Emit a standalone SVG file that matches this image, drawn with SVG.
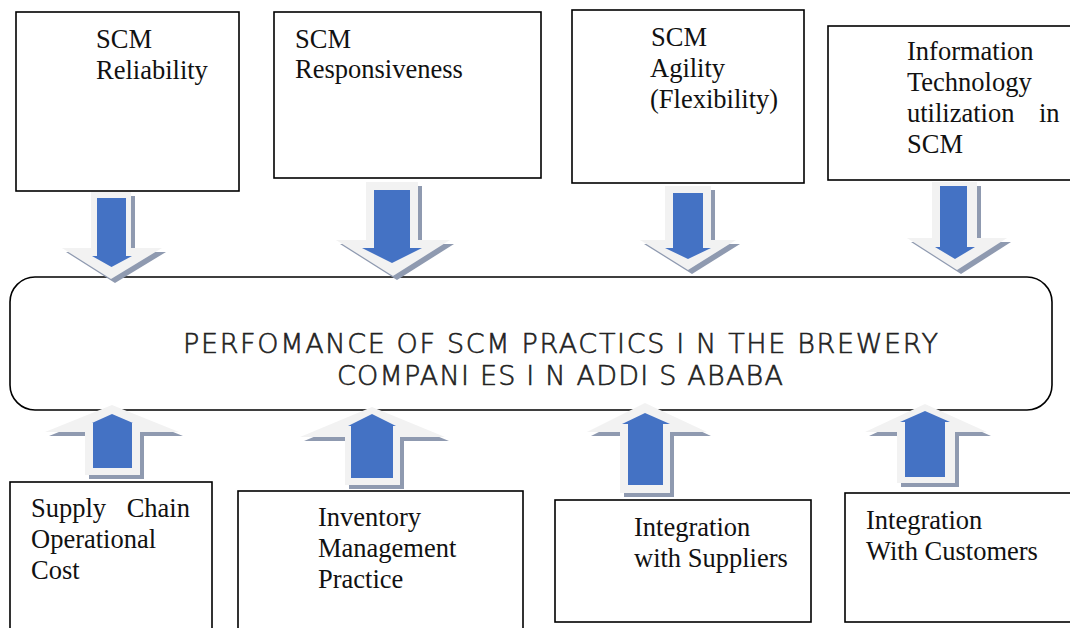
<svg xmlns="http://www.w3.org/2000/svg" width="1070" height="628" viewBox="0 0 1070 628">
<style>
.box{fill:#fff;stroke:#000;stroke-width:1.6}
.t{font-family:"Liberation Serif","Times New Roman",serif;font-size:26.5px;fill:#111}
.m{font-family:"DejaVu Sans","Liberation Sans",sans-serif;font-size:27px;fill:#222;stroke:#222;stroke-width:0.6;font-weight:200}
.lt{fill:#f2f2f2}
.sh{fill:#8f9ab0}
.bl{fill:#4472c4}
</style>
<rect width="1070" height="628" fill="#fff"/>
<g id="n1"><rect class="box" x="16" y="12" width="223" height="179"/>
<text class="t" x="96" y="48">SCM</text><text class="t" x="96" y="79">Reliability</text></g>
<g id="n2"><rect class="box" x="274" y="12" width="267" height="166"/>
<text class="t" x="295" y="48">SCM</text><text class="t" x="295" y="78">Responsiveness</text></g>
<g id="n3"><rect class="box" x="572" y="10" width="232" height="173"/>
<text class="t" x="651" y="46">SCM</text><text class="t" x="650" y="77">Agility</text><text class="t" x="650" y="108">(Flexibility)</text></g>
<g id="n4"><rect class="box" x="828" y="26" width="250" height="154"/>
<text class="t" x="907" y="60">Information</text><text class="t" x="907" y="91">Technology</text>
<text class="t" x="907" y="122">utilization</text><text class="t" x="1039" y="122">in</text><text class="t" x="907" y="153">SCM</text></g>
<g id="main"><rect class="box" x="10" y="277" width="1042" height="133" rx="25"/>
<text class="m" x="183" y="353" textLength="755" lengthAdjust="spacing">PERFOMANCE OF SCM PRACTICS I N THE BREWERY</text>
<text class="m" x="337" y="385" textLength="446" lengthAdjust="spacing">COMPANI ES I N ADDI S ABABA</text></g>
<g id="n5"><rect class="box" x="10" y="482" width="202" height="160"/>
<text class="t" x="31" y="517">Supply</text><text class="t" x="190" y="517" text-anchor="end">Chain</text>
<text class="t" x="31" y="548">Operational</text><text class="t" x="31" y="579">Cost</text></g>
<g id="n6"><rect class="box" x="238" y="491" width="285" height="150"/>
<text class="t" x="318" y="526">Inventory</text><text class="t" x="318" y="557">Management</text><text class="t" x="318" y="588">Practice</text></g>
<g id="n7"><rect class="box" x="555" y="500" width="256" height="122"/>
<text class="t" x="634" y="536">Integration</text><text class="t" x="634" y="567">with Suppliers</text></g>
<g id="n8"><rect class="box" x="845" y="493" width="235" height="129"/>
<text class="t" x="866" y="529">Integration</text><text class="t" x="866" y="560">With Customers</text></g>
<defs>
<polygon id="a1" points="91,192 131,192 131,248 162,248 111,279 62,248 91,248"/>
<polygon id="a2" points="366,182 418,182 418,240 450,240 393,276 336,240 366,240"/>
<polygon id="a3" points="665,186 711,186 711,240 736,240 688,270 640,240 665,240"/>
<polygon id="a4" points="932,182 977,182 977,238 1007,238 957,270 907,238 932,238"/>
<polygon id="a5" points="112,405 179,432 140,432 140,475 85,475 85,432 45,432"/>
<polygon id="a6" points="372,407 445,437 400,437 400,485 345,485 345,437 300,437"/>
<polygon id="a7" points="645,403 707,432 670,432 670,493 620,493 620,432 587,432"/>
<polygon id="a8" points="925,404 987,432 955,432 955,483 897,483 897,432 865,432"/>
</defs>
<g id="connectors">
<use href="#a1" class="sh" transform="translate(4,4)"/><use href="#a1" class="lt"/>
<polygon class="bl" points="97,198 126,198 126,256 132,256 111.5,267 92,256 97,256"/>
<use href="#a2" class="sh" transform="translate(4,4)"/><use href="#a2" class="lt"/>
<polygon class="bl" points="374,190 410,190 410,248 422,248 392,263 362,248 374,248"/>
<use href="#a3" class="sh" transform="translate(4,4)"/><use href="#a3" class="lt"/>
<polygon class="bl" points="673,193 703,193 703,248 711,248 688,259 665,248 673,248"/>
<use href="#a4" class="sh" transform="translate(4,4)"/><use href="#a4" class="lt"/>
<polygon class="bl" points="940,186 967,186 967,247 975,247 955,259 935,247 940,247"/>
<use href="#a5" class="sh" transform="translate(4,4)"/><use href="#a5" class="lt"/>
<polygon class="bl" points="112,414 133,423 132,423 132,468 93,468 93,423 92,423"/>
<use href="#a6" class="sh" transform="translate(4,4)"/><use href="#a6" class="lt"/>
<polygon class="bl" points="372,414 396,426 393,426 393,478 351,478 351,426 348,426"/>
<use href="#a7" class="sh" transform="translate(4,4)"/><use href="#a7" class="lt"/>
<polygon class="bl" points="645,413 670,424 663,424 663,485 628,485 628,424 622,424"/>
<use href="#a8" class="sh" transform="translate(4,4)"/><use href="#a8" class="lt"/>
<polygon class="bl" points="925,411 950,422 945,422 945,477 905,477 905,422 900,422"/>
</g>
</svg>
